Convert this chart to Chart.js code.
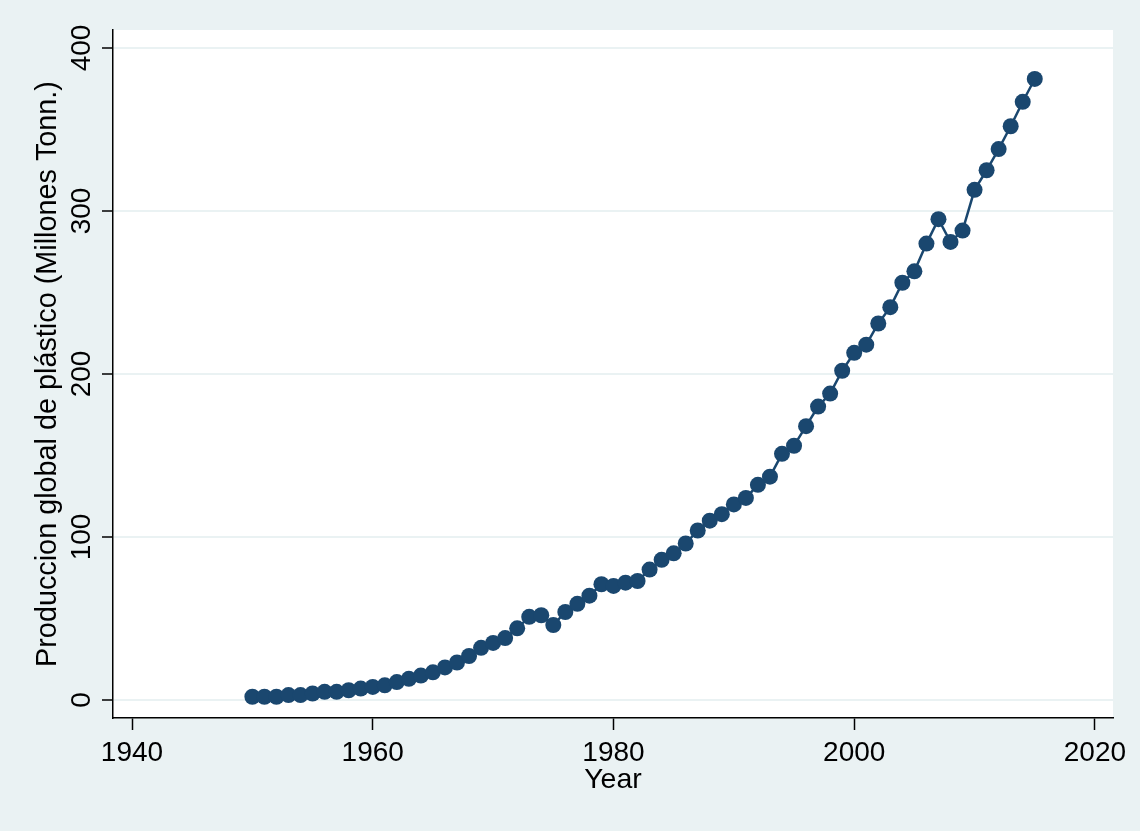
<!DOCTYPE html>
<html>
<head>
<meta charset="utf-8">
<script src="https://cdn.jsdelivr.net/npm/chart.js@4"></script>
<style>
  body { margin: 0; background: #eaf2f3; }
  #wrap { width: 1140px; height: 831px; }
</style>
</head>
<body>
<div id="wrap"><canvas id="plasticChart" width="1140" height="831"></canvas></div>
<script>
// Global plastic production, million tonnes
var years = [1950, 1951, 1952, 1953, 1954, 1955, 1956, 1957, 1958, 1959,
             1960, 1961, 1962, 1963, 1964, 1965, 1966, 1967, 1968, 1969,
             1970, 1971, 1972, 1973, 1974, 1975, 1976, 1977, 1978, 1979,
             1980, 1981, 1982, 1983, 1984, 1985, 1986, 1987, 1988, 1989,
             1990, 1991, 1992, 1993, 1994, 1995, 1996, 1997, 1998, 1999,
             2000, 2001, 2002, 2003, 2004, 2005, 2006, 2007, 2008, 2009,
             2010, 2011, 2012, 2013, 2014, 2015];
var production = [2, 2, 2, 3, 3, 4, 5, 5, 6, 7,
                  8, 9, 11, 13, 15, 17, 20, 23, 27, 32,
                  35, 38, 44, 51, 52, 46, 54, 59, 64, 71,
                  70, 72, 73, 80, 86, 90, 96, 104, 110, 114,
                  120, 124, 132, 137, 151, 156, 168, 180, 188, 202,
                  213, 218, 231, 241, 256, 263, 280, 295, 281, 288,
                  313, 325, 338, 352, 367, 381];
var xTicks = [1940, 1960, 1980, 2000, 2020];
var yTicks = [0, 100, 200, 300, 400];

var navy = '#1a476f';
var bg = '#eaf2f3';
var font = 'Arial, "Liberation Sans", sans-serif';

var points = years.map(function(y, i) { return { x: y, y: production[i] }; });

// stata-like backgrounds: light outer, white plot region
var backgroundPlugin = {
  id: 'backgrounds',
  beforeDraw: function(chart) {
    var c = chart.ctx, a = chart.chartArea;
    c.save();
    c.fillStyle = bg;
    c.fillRect(0, 0, chart.width, chart.height);
    c.fillStyle = '#ffffff';
    c.fillRect(a.left, a.top, a.right - a.left, a.bottom - a.top);
    c.restore();
  }
};

// y tick labels are rotated like the original, drawn at the scale's pixels
var yLabelPlugin = {
  id: 'yLabels',
  afterDraw: function(chart) {
    var c = chart.ctx, s = chart.scales.y;
    c.save();
    c.fillStyle = '#000';
    c.font = '28px ' + font;
    c.textAlign = 'center';
    c.textBaseline = 'alphabetic';
    yTicks.forEach(function(v) {
      c.save();
      c.translate(90, s.getPixelForValue(v));
      c.rotate(-Math.PI / 2);
      c.fillText(String(v), 0, 0);
      c.restore();
    });
    c.restore();
  }
};

var ctx = document.getElementById('plasticChart').getContext('2d');
var chart = new Chart(ctx, {
  type: 'line',
  data: {
    datasets: [{
      label: 'Produccion global de plástico',
      data: points,
      borderColor: navy,
      borderWidth: 2.5,
      backgroundColor: navy,
      pointRadius: 8,
      pointBorderWidth: 0,
      pointBackgroundColor: navy,
      tension: 0,
      fill: false
    }]
  },
  options: {
    responsive: false,
    animation: false,
    layout: { padding: { top: 30, right: 27, bottom: 0, left: 0 } },
    plugins: {
      legend: { display: false },
      tooltip: { enabled: false }
    },
    scales: {
      x: {
        type: 'linear',
        min: 1938.42,
        max: 2021.5,
        afterFit: function(scale) { scale.height = 113; },
        afterBuildTicks: function(scale) {
          scale.ticks = xTicks.map(function(v) { return { value: v }; });
        },
        ticks: {
          color: '#000',
          font: { size: 28, family: font },
          padding: 6,
          maxRotation: 0,
          autoSkip: false,
          callback: function(v) { return String(v); }
        },
        grid: {
          drawOnChartArea: false,
          drawTicks: true,
          tickLength: 12,
          tickColor: '#000',
          tickWidth: 1.5
        },
        border: { display: true, color: '#000', width: 1.5 },
        title: {
          display: true,
          text: 'Year',
          color: '#000',
          font: { size: 28.5, family: font },
          padding: { top: 0, bottom: 34 }
        }
      },
      y: {
        type: 'linear',
        min: -11.04,
        max: 411.04,
        afterFit: function(scale) { scale.width = 113; },
        afterBuildTicks: function(scale) {
          scale.ticks = yTicks.map(function(v) { return { value: v }; });
        },
        ticks: { display: false },
        grid: {
          color: bg,
          lineWidth: 2,
          drawTicks: true,
          tickLength: 11,
          tickColor: '#000',
          tickWidth: 1.5
        },
        border: { display: true, color: '#000', width: 1.5 },
        title: {
          display: true,
          text: 'Produccion global de plástico (Millones Tonn.)',
          color: '#000',
          font: { size: 28.8, family: font },
          padding: { top: 31, bottom: 0 }
        }
      }
    }
  },
  plugins: [backgroundPlugin, yLabelPlugin]
});
</script>
</body>
</html>
